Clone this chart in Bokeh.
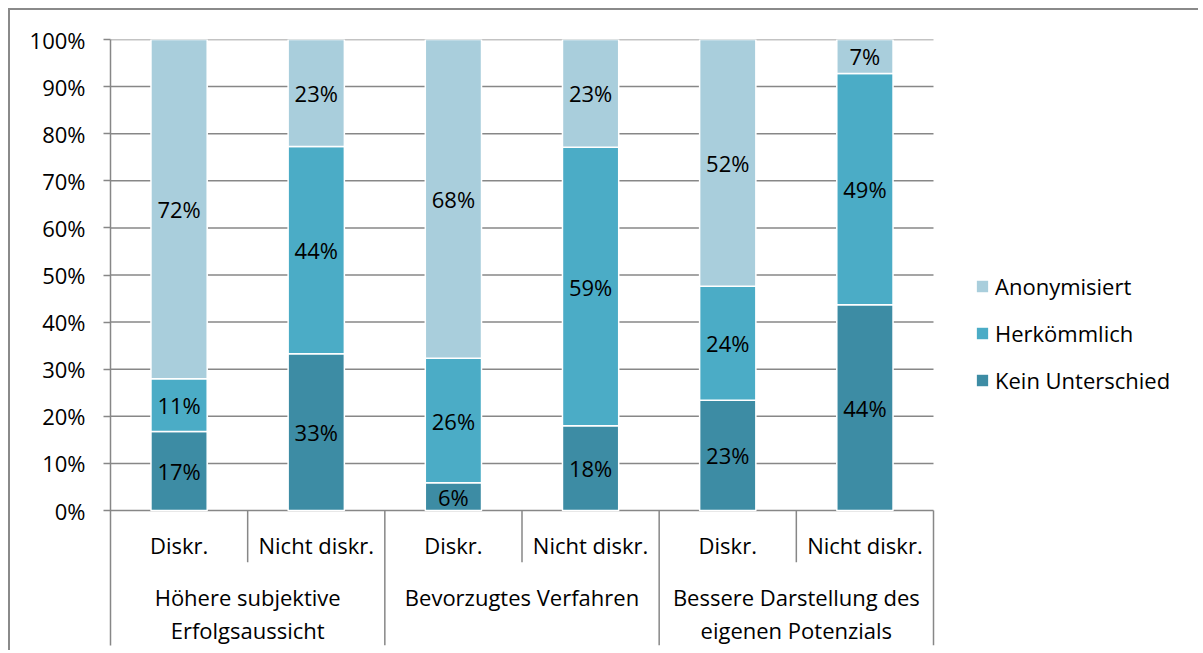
from bokeh.plotting import figure
from bokeh.models import (Range1d, FixedTicker, CustomJSTickFormatter, Legend, LegendItem,
                          ColumnDataSource)
from bokeh.core.properties import value
from bokeh.embed import file_html
from bokeh.resources import INLINE

# ---- data ----
groups = ["Höhere subjektive\nErfolgsaussicht", "Bevorzugtes Verfahren",
          "Bessere Darstellung des\neigenen Potenzials"]
subgroups = ["Diskr.", "Nicht diskr."]
series = ["Kein Unterschied", "Herkömmlich", "Anonymisiert"]
kein = [16.8, 33.3, 5.9, 18.0, 23.4, 43.7]
herk = [11.2, 44.0, 26.4, 59.1, 24.2, 49.1]
anon = [72.0, 22.7, 67.7, 22.9, 52.4, 7.2]
y_ticks = [0, 10, 20, 30, 40, 50, 60, 70, 80, 90, 100]

colors = ["#3D8CA4", "#4BACC6", "#A9CEDC"]
FONT = "Open Sans"
FS = "22px"
GRID = "#878787"

n = len(groups) * len(subgroups)
xs = [i + 0.5 for i in range(n)]

# layout: chart area 823 px wide, frame extends right to hold the legend
CHART_W = 823
FRAME_W = 1088
y_bottom = -28.66
p = figure(width=1190, height=642, output_backend="svg", toolbar_location=None,
           x_range=Range1d(0, n * FRAME_W / CHART_W), y_range=Range1d(y_bottom, 100),
           min_border_left=100, min_border_top=29, min_border_bottom=7,
           min_border_right=2)
p.styles = {"border-left": "2px solid #8a8a8a", "border-top": "2px solid #8a8a8a",
            "margin-left": "8px", "margin-top": "8px"}
p.outline_line_color = None
p.xaxis.visible = False
p.xgrid.visible = False
p.ygrid.visible = False

yt = FixedTicker(ticks=y_ticks)
p.yaxis.ticker = yt
p.yaxis.formatter = CustomJSTickFormatter(code="return tick.toFixed(0) + '%';")
p.yaxis.axis_line_color = GRID
p.yaxis.axis_line_width = 1.5
p.yaxis.major_tick_line_color = GRID
p.yaxis.major_tick_line_width = 1.5
p.yaxis.major_tick_out = 7
p.yaxis.major_tick_in = 0
p.yaxis.minor_tick_line_color = None
p.yaxis.major_label_text_font = FONT
p.yaxis.major_label_text_font_size = FS
p.yaxis.major_label_text_color = "#000000"
p.yaxis.major_label_standoff = 18
p.yaxis.bounds = (y_bottom, 100)

# gridlines over the chart area only
p.segment(x0=[0] * len(y_ticks), y0=y_ticks, x1=[n] * len(y_ticks), y1=y_ticks,
          line_color=GRID, line_width=1.5)

src = ColumnDataSource(dict(x=xs, kein=kein, herk=herk, anon=anon))
rs = p.vbar_stack(["kein", "herk", "anon"], x="x", width=0.41, source=src,
                  color=colors, line_color="white", line_width=1.5)

# segment labels
lx, ly, lt = [], [], []
for i in range(n):
    base = 0
    for vals in (kein, herk, anon):
        v = vals[i]
        lx.append(xs[i]); ly.append(base + v / 2); lt.append("%d%%" % round(v))
        base += v
p.text(x=lx, y=ly, text=lt, text_align="center", text_baseline="middle",
       text_font=value(FONT), text_font_size=FS, text_color="#000000")

# category axis (table style)
sub_depth = -11.0
sx0, sy0, sx1, sy1 = [], [], [], []
for k in range(1, n + 1):
    sx0.append(k); sx1.append(k); sy0.append(0)
    sy1.append(y_bottom if k % len(subgroups) == 0 else sub_depth)
p.segment(x0=sx0, y0=sy0, x1=sx1, y1=sy1, line_color=GRID, line_width=1.5)

sub_lab = [subgroups[i % len(subgroups)] for i in range(n)]
p.text(x=xs, y=[-7.4] * n, text=sub_lab, text_align="center", text_baseline="middle",
       text_font=value(FONT), text_font_size=FS, text_color="#000000")

gx = [len(subgroups) * (g + 0.5) for g in range(len(groups))]
line1 = [g.split("\n")[0] for g in groups]
line2 = [g.split("\n")[1] if "\n" in g else "" for g in groups]
p.text(x=gx, y=[-18.3] * len(groups), text=line1, text_align="center",
       text_baseline="middle", text_font=value(FONT), text_font_size=FS,
       text_color="#000000")
p.text(x=gx, y=[-25.3] * len(groups), text=line2, text_align="center",
       text_baseline="middle", text_font=value(FONT), text_font_size=FS,
       text_color="#000000")

items = [LegendItem(label=series[j], renderers=[rs[j]]) for j in (2, 1, 0)]
legend = Legend(items=items, location=(CHART_W + 41, 250), margin=0, padding=0,
                glyph_width=16, glyph_height=16, label_standoff=5,
                spacing=17, label_height=26,
                label_text_font=FONT, label_text_font_size=FS,
                label_text_color="#000000", border_line_color=None,
                background_fill_alpha=0)
p.add_layout(legend, "center")

open("out.html", "w").write(file_html(p, INLINE))
